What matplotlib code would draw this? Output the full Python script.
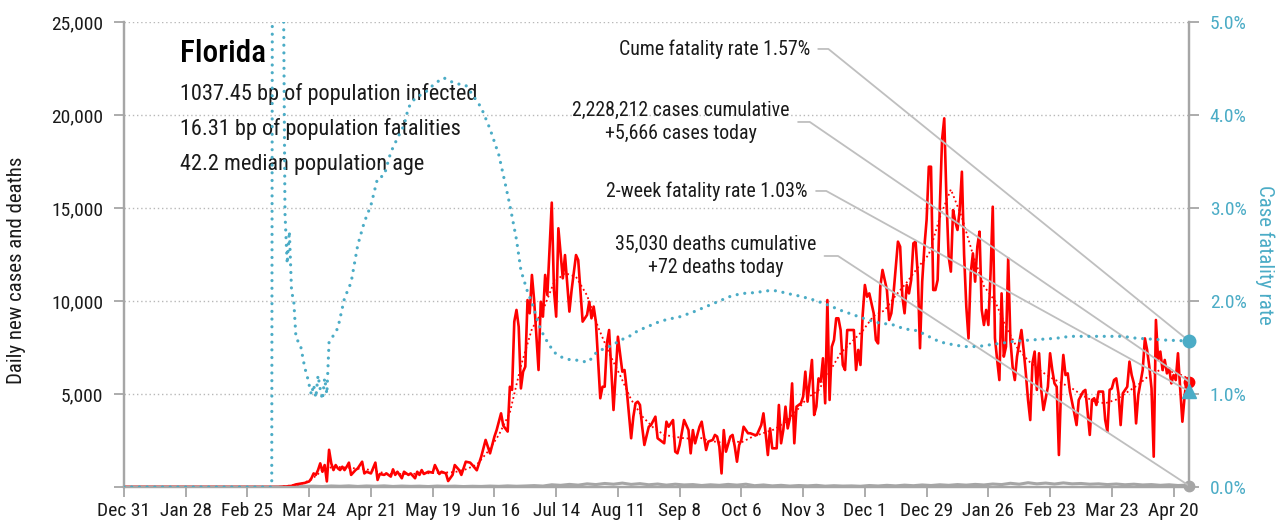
import matplotlib
matplotlib.use("Agg")
import matplotlib.pyplot as plt
from matplotlib.ticker import FuncFormatter

plt.rcParams['font.family'] = ['Roboto Condensed', 'DejaVu Sans']

# x values are days since Dec 31, 2019
case_day = [0, 70, 74, 76, 78, 80, 82, 84, 85, 86,
            87, 88, 89, 90, 91, 92, 93, 94, 95, 96,
            97, 98, 99, 100, 101, 102, 103, 105, 106, 108,
            109, 110, 112, 114, 115, 116, 118, 119, 121, 122,
            123, 124, 126, 127, 129, 130, 132, 133, 134, 135,
            136, 138, 140, 141, 143, 144, 146, 147, 149, 150,
            152, 153, 155, 157, 158, 160, 162, 164, 166, 168,
            169, 171, 172, 174, 175, 176, 177, 178, 179, 180,
            181, 182, 183, 184, 185, 186, 188, 189, 190, 191,
            192, 194, 195, 196, 197, 199, 200, 202, 203, 205,
            206, 208, 210, 211, 212, 213, 214, 216, 217, 218,
            219, 220, 222, 224, 226, 227, 228, 230, 231, 232,
            233, 234, 235, 236, 238, 239, 241, 242, 243, 245,
            246, 247, 249, 250, 251, 252, 254, 256, 257, 258,
            259, 261, 262, 264, 265, 267, 268, 269, 270, 271,
            272, 273, 275, 276, 277, 278, 279, 280, 281, 283,
            284, 286, 287, 289, 290, 291, 292, 293, 294, 296,
            297, 298, 299, 300, 301, 302, 303, 304, 305, 307,
            308, 309, 310, 312, 313, 314, 315, 316, 317, 318,
            319, 320, 321, 322, 323, 324, 325, 326, 327, 328,
            329, 331, 332, 333, 334, 335, 336, 337, 338, 340,
            341, 342, 343, 344, 346, 347, 348, 349, 351, 352,
            353, 354, 355, 356, 357, 358, 359, 360, 361, 362,
            363, 364, 365, 366, 367, 368, 369, 370, 371, 372,
            373, 374, 375, 376, 377, 378, 379, 380, 381, 382,
            383, 384, 385, 386, 387, 388, 389, 390, 391, 392,
            393, 394, 395, 396, 397, 398, 399, 400, 401, 402,
            403, 404, 405, 407, 408, 409, 410, 411, 412, 413,
            414, 415, 416, 417, 419, 420, 421, 422, 423, 424,
            425, 426, 427, 428, 429, 431, 432, 433, 435, 436,
            437, 438, 439, 440, 441, 442, 444, 445, 446, 447,
            448, 449, 450, 451, 452, 453, 455, 456, 457, 458,
            459, 460, 462, 463, 464, 465, 466, 467, 468, 469,
            470, 471, 472, 473, 474, 475, 476, 477, 478, 479,
            480, 481, 482, 483]
case_val = [0, 0, 30, 60, 140, 180, 220, 300, 470, 730,
            650, 910, 1270, 820, 1180, 300, 2000, 1270, 910, 1180,
            1000, 910, 1090, 910, 1090, 1310, 650, 910, 1000, 1360,
            730, 820, 730, 1310, 380, 700, 650, 730, 560, 950,
            650, 820, 470, 820, 650, 730, 470, 820, 650, 910,
            700, 820, 770, 1180, 700, 820, 730, 320, 650, 1180,
            910, 650, 1360, 1310, 1180, 900, 1630, 2530, 1810, 2710,
            3060, 3960, 3300, 2980, 5390, 5220, 8890, 9520, 8620, 5300,
            6200, 6470, 10050, 9340, 11400, 10050, 6290, 9960, 9160, 11400,
            10320, 15290, 10590, 9160, 13910, 11220, 12470, 9430, 10590, 12470,
            12200, 8890, 9250, 9960, 9070, 9700, 8890, 4770, 5390, 5390,
            7720, 8440, 4140, 8080, 6200, 6290, 5220, 2620, 3780, 4500,
            4590, 4410, 3240, 2260, 3240, 3330, 3780, 2620, 2530, 2350,
            3510, 3240, 3600, 1900, 1810, 2260, 3600, 3060, 1810, 3060,
            2350, 3240, 3510, 1990, 2440, 2530, 2800, 2710, 2170, 730,
            3060, 1900, 2710, 2800, 2170, 1360, 2260, 2530, 3240, 2890,
            2890, 2800, 2800, 3330, 3960, 2890, 1720, 3150, 2080, 2080,
            4410, 2350, 3060, 4320, 3150, 3690, 5570, 2350, 4320, 4500,
            4860, 6200, 4590, 6830, 3870, 4320, 5840, 5660, 6920, 4500,
            10050, 4680, 7540, 7900, 9070, 9070, 8440, 6560, 6290, 8440,
            8440, 8440, 6290, 7370, 6560, 9250, 10860, 10230, 10410, 9340,
            7900, 7720, 10770, 11670, 10590, 8980, 9340, 10410, 13190, 12920,
            10230, 9340, 10860, 10410, 11130, 13100, 13190, 11400, 7460, 11040,
            12920, 14360, 17220, 17220, 10590, 10590, 11130, 15070, 18660, 19820,
            15500, 12380, 11580, 14890, 14270, 13820, 14890, 16950, 12500, 9700,
            7990, 11490, 12560, 11040, 12920, 13730, 9520, 8710, 9520, 8710,
            11490, 15070, 8000, 6830, 5750, 10410, 7010, 7540, 12300, 7900,
            6470, 5750, 7010, 8440, 7370, 6110, 4680, 3600, 6650, 7280,
            5220, 7190, 5220, 4140, 5390, 7190, 6290, 5570, 5390, 1720,
            5390, 7100, 6020, 6110, 5130, 3960, 3330, 4680, 5130, 5220,
            4050, 2800, 4680, 4770, 4410, 5130, 5130, 3600, 2980, 5220,
            5300, 5750, 5840, 5040, 3330, 5040, 5390, 6740, 6020, 5570,
            3420, 4950, 6290, 7990, 7370, 6470, 5300, 1630, 8980, 6830,
            7280, 6290, 6830, 6110, 6380, 5570, 6020, 5750, 7190, 5300,
            3510, 4860, 5840, 5666]

avg_day = [70, 80, 85, 90, 95, 100, 110, 120, 130, 140, 150] + list(range(155, 481, 5)) + [483]
avg_val = [0, 150, 400, 900, 1100, 1050, 950, 700, 700, 750, 800,
           950, 1200, 1900, 2800, 4000, 6500, 8500, 9500, 11000, 11500,
           11300, 10300, 8600, 7200, 6000, 4700, 3800, 3200, 2800, 2700,
           2600, 2700, 2500, 2400, 2500, 2400, 2700, 2900, 3100, 3500,
           4100, 4800, 5200, 6200, 7200, 7800, 8400, 9200, 9500, 10300,
           11000, 11800, 12500, 14500, 16000, 14500, 12500, 10800, 10000, 8600,
           7500, 6800, 6300, 5900, 5600, 5300, 4900, 4600, 4500, 4700,
           5100, 5500, 6000, 6300, 6200, 6000, 5800]

death_day = [0] + list(range(66, 483, 4)) + [483]
death_val = [0,
             0, 2, 8, 20, 35, 45, 25, 55, 40, 60,
             30, 55, 40, 60, 30, 50, 35, 45, 25, 50,
             35, 45, 25, 40, 30, 50, 35, 60, 40, 55,
             75, 50, 120, 90, 140, 100, 170, 130, 190, 150,
             210, 140, 180, 120, 160, 100, 150, 110, 130, 80,
             120, 90, 140, 100, 150, 70, 110, 60, 90, 50,
             80, 60, 90, 45, 70, 50, 60, 40, 80, 55,
             90, 60, 100, 70, 110, 80, 120, 90, 130, 100,
             140, 110, 160, 130, 200, 150, 230, 170, 210, 160,
             220, 170, 190, 150, 170, 130, 160, 120, 150, 110,
             130, 90, 120, 80, 100,
             72]

cfr_day = [0, 67, 68, 69, 70, 71, 72, 73, 74, 75, 76, 77, 78, 80, 82, 83, 85, 86, 87, 88,
           89, 90, 91, 92, 93, 95, 97, 100, 103, 106, 109, 112, 115, 118, 121, 124, 127, 129, 132, 137,
           141, 145, 150, 155, 158, 162, 166, 170, 173, 175, 178, 180, 183, 185, 187, 189, 192, 195, 198, 202,
           207, 210, 212, 214, 217, 220, 224, 227, 230, 233, 236, 242, 246, 252, 258, 263, 269, 275, 280, 286,
           292, 296, 301, 307, 313, 319, 325, 331, 337, 343, 348, 354, 360, 364, 370, 376, 381, 387, 393, 399,
           405, 411, 417, 423, 429, 441, 453, 459, 466, 472, 483]
cfr_pct = [0, 0, 20, 15, 10, 8, 6.5, 2.95, 2.4, 2.75, 2.1, 2.0, 1.6, 1.53, 1.28, 1.2, 0.99, 1.1, 0.96, 1.2,
           1.05, 0.94, 1.17, 1.0, 1.56, 1.63, 1.71, 2.03, 2.2, 2.6, 2.85, 3.03, 3.32, 3.35, 3.6, 3.75, 3.89, 4.08, 4.18, 4.25,
           4.34, 4.4, 4.34, 4.32, 4.22, 4.08, 3.85, 3.57, 3.25, 3.03, 2.66, 2.33, 2.1, 1.98, 1.83, 1.69, 1.56, 1.45, 1.4, 1.37,
           1.36, 1.34, 1.38, 1.44, 1.48, 1.51, 1.56, 1.6, 1.63, 1.68, 1.71, 1.77, 1.8, 1.83, 1.88, 1.93, 1.99, 2.05, 2.08, 2.09,
           2.11, 2.11, 2.08, 2.05, 2.01, 1.96, 1.9, 1.85, 1.8, 1.76, 1.75, 1.7, 1.68, 1.63, 1.56, 1.53, 1.51, 1.51, 1.53, 1.55,
           1.57, 1.58, 1.59, 1.6, 1.62, 1.62, 1.62, 1.6, 1.59, 1.58, 1.57]

assert len(case_day) == len(case_val)
assert len(avg_day) == len(avg_val)
assert len(death_day) == len(death_val)
assert len(cfr_day) == len(cfr_pct)

tick_labels = ["Dec 31", "Jan 28", "Feb 25", "Mar 24", "Apr 21", "May 19", "Jun 16",
               "Jul 14", "Aug 11", "Sep 8", "Oct 6", "Nov 3", "Dec 1", "Dec 29",
               "Jan 26", "Feb 23", "Mar 23", "Apr 20"]

state = "Florida"
info_lines = ["1037.45 bp of population infected",
              "16.31 bp of population fatalities",
              "42.2 median population age"]
last_day = 483
cume_cfr = 1.57
two_week_cfr = 1.03
cases_today = 5666
deaths_today = 72

RED = "#ff0000"
TEAL = "#4bacc6"
GRAY = "#a6a6a6"
LEADER = "#bfbfbf"
INK = "#1a1a1a"

fig = plt.figure(figsize=(12.82, 5.29), dpi=100)
ax = fig.add_axes([124 / 1282, 42 / 529, 1065 / 1282, 465 / 529])
ax2 = ax.twinx()

# --- left axis: cases and deaths ---
ax.plot(death_day, death_val, color=GRAY, lw=2.2, zorder=2)
ax.plot(case_day, case_val, color=RED, lw=1.9, zorder=3)
ax.plot(avg_day, avg_val, color=RED, lw=1.3, ls=(0, (1, 1.6)), zorder=3)
ax.plot([last_day], [cases_today], "o", color=RED, ms=7.5, clip_on=False, zorder=5)
ax.plot([last_day], [deaths_today], "o", color=GRAY, ms=7.5, clip_on=False, zorder=5)

ax.set_xlim(0, last_day)
ax.set_ylim(0, 25000)
ax.set_xticks(range(0, 477, 28))
ax.set_xticklabels(tick_labels)
ax.set_yticks(range(0, 25001, 5000))
ax.yaxis.set_major_formatter(FuncFormatter(lambda v, p: "" if v == 0 else f"{v:,.0f}"))
ax.yaxis.grid(True, ls=(0, (1, 2)), color="#b8b8b8", lw=1)
ax.set_axisbelow(True)
ax.set_ylabel("Daily new cases and deaths", fontsize=15, color=INK)
ax.yaxis.set_label_coords(-0.092, 0.467)

# --- right axis: case fatality rate ---
ax2.plot(cfr_day, cfr_pct, color=TEAL, lw=2.3, ls=(0, (0.01, 2.4)),
         dash_capstyle="round", zorder=4)
ax2.plot([last_day], [cume_cfr], "o", color=TEAL, ms=9, clip_on=False, zorder=6)
ax2.plot([last_day], [two_week_cfr], "^", color=TEAL, ms=9.5, clip_on=False, zorder=6)
ax2.set_ylim(0, 5)
ax2.set_yticks([0, 1, 2, 3, 4, 5])
ax2.yaxis.set_major_formatter(FuncFormatter(lambda v, p: f"{v:.1f}%"))
ax2.set_ylabel("Case fatality rate", fontsize=15, color=TEAL, rotation=270, va="center")
ax2.yaxis.set_label_coords(1.0714, 0.499)

for a in (ax, ax2):
    a.spines["top"].set_visible(False)
    for s in ("left", "right", "bottom"):
        a.spines[s].set_color(GRAY)
        a.spines[s].set_linewidth(1.6)
ax.tick_params(axis="both", direction="out", length=7, width=1.3, color=GRAY,
               labelsize=14, labelcolor=INK, pad=8)
ax.tick_params(axis="x", pad=4)
ax2.tick_params(axis="y", direction="out", length=7, width=1.3, color=GRAY,
                labelsize=14, labelcolor=TEAL, pad=8)

# --- state info block ---
ax.text(0.0526, 0.914, state, transform=ax.transAxes, fontsize=22.5, fontweight=500,
        va="baseline", color="#000000", zorder=1)
for i, line in enumerate(info_lines):
    ax.text(0.0526, 0.832 - i * 0.0753, line, transform=ax.transAxes,
            fontsize=16, va="baseline", color=INK, zorder=1)

# --- callouts with leader lines ---
callouts = [
    (f"Cume fatality rate {cume_cfr:.2f}%", (0.644, 0.942), "right",
     (last_day, cume_cfr), ax2.transData, -39.0),
    ("2,228,212 cases cumulative\n+5,666 cases today", (0.523, 0.785), "center",
     (last_day, cases_today), ax.transData, -34.4),
    (f"2-week fatality rate {two_week_cfr:.2f}%", (0.642, 0.6366), "right",
     (last_day, two_week_cfr), ax2.transData, -28.9),
    ("35,030 deaths cumulative\n+72 deaths today", (0.5554, 0.4968), "center",
     (last_day, deaths_today), ax.transData, -33.2),
]
for txt, pos, ha, xy, trans, ang in callouts:
    ax2.annotate(txt, xy=xy, xycoords=trans, xytext=pos, textcoords="axes fraction",
                 ha=ha, va="center", ma="center", fontsize=14.3, linespacing=1.25,
                 color=INK,
                 arrowprops=dict(arrowstyle="-", color=LEADER, lw=1.3, shrinkA=4, shrinkB=0,
                                 relpos=(1, 0.5),
                                 connectionstyle=f"angle,angleA=0,angleB={ang},rad=0"),
                 zorder=1)

fig.savefig("out.png", dpi=100)
